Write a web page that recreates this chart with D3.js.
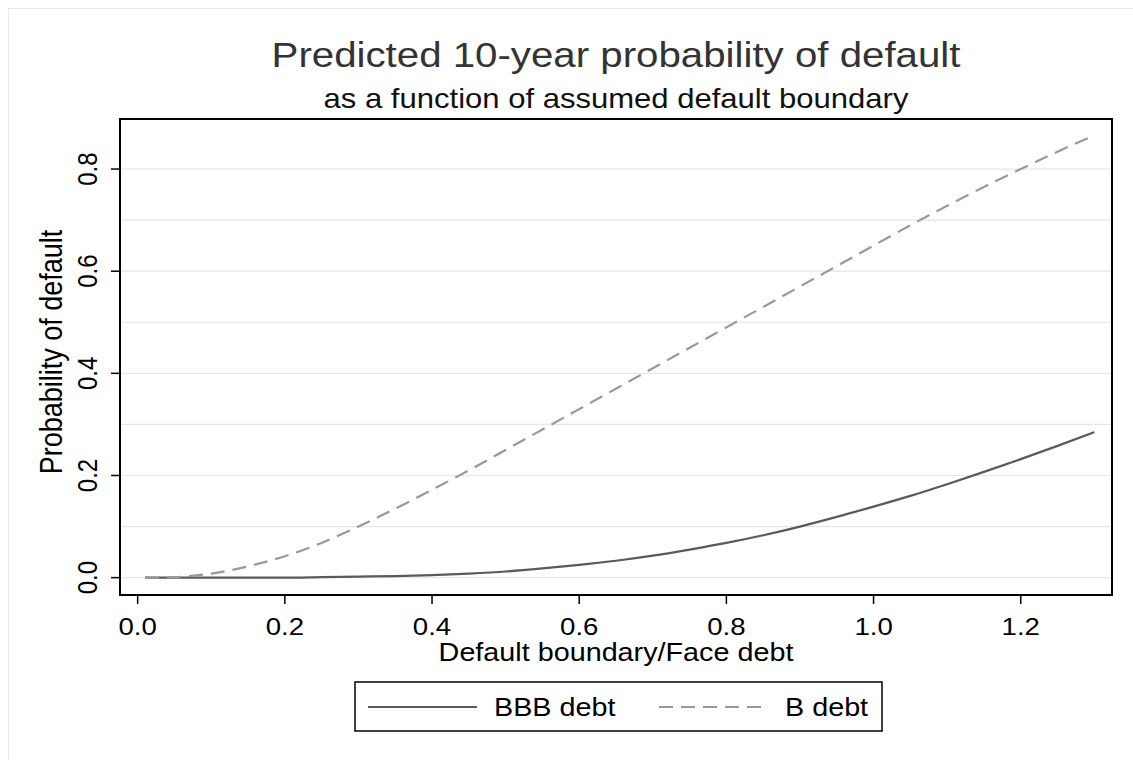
<!DOCTYPE html>
<html>
<head>
<meta charset="utf-8">
<script src="https://cdn.jsdelivr.net/npm/d3@7"></script>
<style>
  body { margin: 0; background: #fff; }
  text { font-family: "Liberation Sans", Arial, sans-serif; }
</style>
</head>
<body>
<script>
// boundary / face debt
var boundary = [0.01, 0.05, 0.1, 0.15, 0.2, 0.25, 0.3, 0.35, 0.4, 0.45, 0.5, 0.55, 0.6, 0.65,
  0.7, 0.75, 0.8, 0.85, 0.9, 0.95, 1.0, 1.05, 1.1, 1.15, 1.2, 1.25, 1.3];
var bbbDebt = [0, 0, 0, 0, 0, 0.001, 0.002, 0.003, 0.005, 0.008, 0.012, 0.018, 0.025, 0.033,
  0.043, 0.055, 0.068, 0.083, 0.1, 0.119, 0.139, 0.16, 0.183, 0.207, 0.232, 0.258, 0.285];
var bDebt = [0, 0.001, 0.008, 0.022, 0.042, 0.068, 0.1, 0.135, 0.172, 0.21, 0.25, 0.29, 0.33,
  0.37, 0.41, 0.45, 0.49, 0.53, 0.57, 0.61, 0.65, 0.69, 0.728, 0.765, 0.8, 0.834, 0.866];
var xTicks = [0, 0.2, 0.4, 0.6, 0.8, 1.0, 1.2];
var yTicks = [0, 0.2, 0.4, 0.6, 0.8];
var yGrid = [0, 0.1, 0.2, 0.3, 0.4, 0.5, 0.6, 0.7, 0.8];

var width = 1133, height = 760;
var pLeft = 120, pRight = 1112, pTop = 119, pBottom = 595;
var sx = 1.15; // text in the reference is a bit wide

var svg = d3.select("body").append("svg")
    .attr("width", width)
    .attr("height", height);

// outer graph region
svg.append("rect")
    .attr("x", 8.5).attr("y", 8.5)
    .attr("width", 1140).attr("height", 800)
    .attr("fill", "none")
    .attr("stroke", "#e8e8e8");

var x = d3.scaleLinear().domain([-0.024, 1.324]).range([pLeft, pRight]);
var y = d3.scaleLinear().domain([-0.034, 0.898]).range([pBottom, pTop]);

function label(g, tx, ty, size, str, rot) {
  return g.append("text")
      .attr("transform", "translate(" + tx + "," + ty + ")scale(" + sx + ",1)" + (rot ? "rotate(-90)" : ""))
      .attr("text-anchor", "middle")
      .attr("font-size", size)
      .text(str);
}

// grid
svg.append("g")
    .selectAll("line")
    .data(yGrid)
    .enter().append("line")
    .attr("x1", pLeft).attr("x2", pRight)
    .attr("y1", function(d) { return y(d); })
    .attr("y2", function(d) { return y(d); })
    .attr("stroke", "#e6e6e6")
    .attr("stroke-width", 1.2);

// series
var line = d3.line()
    .x(function(d) { return x(d[0]); })
    .y(function(d) { return y(d[1]); })
    .curve(d3.curveMonotoneX);

svg.append("path")
    .datum(d3.zip(boundary, bbbDebt))
    .attr("d", line)
    .attr("fill", "none")
    .attr("stroke", "#5a5a5a")
    .attr("stroke-width", 2.2);

svg.append("path")
    .datum(d3.zip(boundary, bDebt))
    .attr("d", line)
    .attr("fill", "none")
    .attr("stroke", "#999")
    .attr("stroke-width", 2.2)
    .attr("stroke-dasharray", "14,8");

// frame
svg.append("rect")
    .attr("x", pLeft).attr("y", pTop)
    .attr("width", pRight - pLeft).attr("height", pBottom - pTop)
    .attr("fill", "none")
    .attr("stroke", "#000")
    .attr("stroke-width", 2);

// x axis
var xAxis = svg.append("g");
xAxis.selectAll("line")
    .data(xTicks)
    .enter().append("line")
    .attr("x1", function(d) { return x(d); })
    .attr("x2", function(d) { return x(d); })
    .attr("y1", pBottom + 1).attr("y2", pBottom + 9)
    .attr("stroke", "#000")
    .attr("stroke-width", 1.5);
xTicks.forEach(function(d) {
  label(xAxis, x(d), 635, 24, d3.format(".1f")(d), false);
});

// y axis
var yAxis = svg.append("g");
yAxis.selectAll("line")
    .data(yTicks)
    .enter().append("line")
    .attr("x1", pLeft - 9).attr("x2", pLeft - 1)
    .attr("y1", function(d) { return y(d); })
    .attr("y2", function(d) { return y(d); })
    .attr("stroke", "#000")
    .attr("stroke-width", 1.5);
yTicks.forEach(function(d) {
  label(yAxis, 97, y(d), 24, d3.format(".1f")(d), true);
});

// axis titles
label(svg, 616, 661, 25, "Default boundary/Face debt", false);
label(svg, 62, 352, 27, "Probability of default", true);

// titles
label(svg, 616, 67, 35, "Predicted 10-year probability of default", false)
    .attr("fill", "#333");
label(svg, 616, 108, 27, "as a function of assumed default boundary", false)
    .attr("fill", "#111");

// legend
var legend = svg.append("g").attr("transform", "translate(355,682)");
legend.append("rect")
    .attr("width", 527).attr("height", 49)
    .attr("fill", "#fff")
    .attr("stroke", "#000")
    .attr("stroke-width", 1.5);
var items = [
  { name: "BBB debt", color: "#5a5a5a", dash: null, x0: 13 },
  { name: "B debt", color: "#999", dash: "14,8", x0: 304 }
];
items.forEach(function(it) {
  legend.append("line")
      .attr("x1", it.x0).attr("x2", it.x0 + 109)
      .attr("y1", 25).attr("y2", 25)
      .attr("stroke", it.color)
      .attr("stroke-width", 2)
      .attr("stroke-dasharray", it.dash);
  legend.append("text")
      .attr("transform", "translate(" + (it.x0 + 126) + ",34)scale(" + sx + ",1)")
      .attr("font-size", 25)
      .text(it.name);
});
</script>
</body>
</html>
